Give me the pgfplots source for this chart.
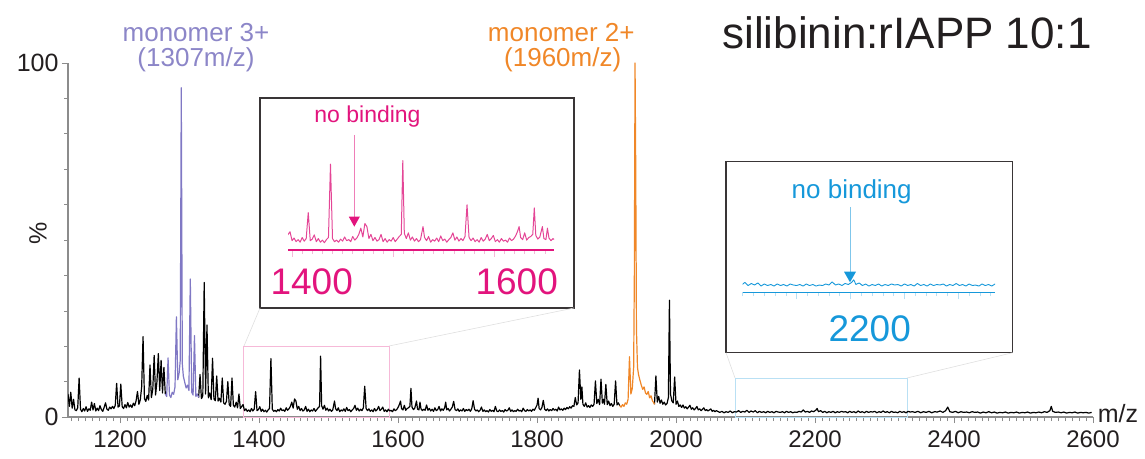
\documentclass[border=0pt]{standalone}
\usepackage{pgfplots}
\pgfplotsset{compat=1.18}
\usepackage{pgfplotstable}
\usepackage{fontspec}
\setmainfont{Liberation Sans}
\definecolor{purp}{RGB}{128,120,196}
\definecolor{purptxt}{RGB}{140,134,200}
\definecolor{orng}{RGB}{240,135,40}
\definecolor{pinkc}{RGB}{226,20,125}
\definecolor{pinkl}{RGB}{228,70,150}
\definecolor{bluec}{RGB}{22,152,218}
\definecolor{axgray}{RGB}{140,140,140}
\definecolor{txt}{RGB}{35,31,32}
\newcommand{\fs}[1]{\fontsize{#1}{#1}\selectfont}

\pgfplotstableread[row sep=\\]{
x y\\
1125 6.5\\ 1127 3\\ 1129 7\\ 1131 2.5\\ 1133 5\\ 1135 2\\
1137 1.8\\ 1139 2.6\\ 1141 11\\ 1143 2.2\\ 1145 1.5\\ 1147 2.4\\ 1149 1.7\\ 1151 2.9\\ 1153 1.6\\ 1155 2.3\\
1157 1.9\\ 1159 4.2\\ 1161 2.0\\ 1163 3.8\\ 1165 1.7\\ 1167 2.5\\ 1169 1.8\\ 1171 3.2\\ 1173 2.1\\ 1175 1.6\\
1177 2.7\\ 1179 4.0\\ 1181 2.2\\ 1183 1.9\\ 1185 2.8\\ 1187 2.3\\ 1189 3.0\\ 1191 2.4\\ 1193 3.3\\ 1195 9.5\\
1197 2.8\\ 1199 3.1\\ 1201 9.3\\ 1203 2.9\\ 1205 2.4\\ 1207 3.5\\ 1209 2.6\\ 1211 4.1\\ 1213 2.8\\ 1215 3.4\\
1217 2.7\\ 1219 3.9\\ 1221 3.2\\ 1223 4.6\\ 1225 7.2\\ 1227 3.6\\ 1229 4.8\\ 1231 8.5\\ 1233 22.7\\ 1235 5.2\\
1237 4.4\\ 1239 6.1\\ 1241 4.8\\ 1243 14.7\\ 1245 5.5\\ 1247 7.8\\ 1249 17.4\\ 1251 6.2\\ 1253 10\\ 1255 17.9\\
1257 7.5\\ 1259 16\\ 1261 6.8\\ 1263 14\\ 1265 6.5\\
1267 5.8\\ 1269 16.7\\ 1271 6.2\\ 1273 5.5\\ 1275 7.0\\ 1277 6.4\\ 1279 8.5\\ 1281 28.3\\ 1283 10.5\\ 1285 12.5\\
1286.5 16\\ 1288 93\\ 1289.5 15\\ 1291 11.5\\ 1293 9.8\\ 1295 8.2\\ 1297 9.0\\ 1299 7.5\\ 1301 39\\ 1303 7.0\\
1305 6.2\\ 1307 23\\ 1309 5.8\\ 1311 6.5\\ 1313 5.5\\
1315 12\\ 1317 5.2\\ 1319 6.0\\ 1321 38\\ 1323 6.5\\ 1325 26\\ 1327 5.4\\ 1329 6.8\\ 1331 4.9\\ 1333 16.6\\
1335 5.1\\ 1337 4.6\\ 1339 11.6\\ 1341 4.5\\ 1343 5.3\\ 1345 4.2\\ 1347 11\\ 1349 4.0\\ 1351 3.6\\ 1353 4.4\\
1355 10\\ 1357 3.5\\ 1359 3.0\\ 1361 11\\ 1363 3.3\\ 1365 2.8\\ 1367 4.2\\ 1369 2.6\\ 1371 6.5\\ 1373 2.4\\ 1375 3.0\\
1377 3.5\\ 1379 1.8\\ 1381 2.3\\ 1383 1.6\\ 1385 2.0\\ 1387 1.5\\ 1389 2.4\\ 1391 1.7\\ 1393 2.2\\ 1395 7.2\\
1397 1.8\\ 1399 2.1\\ 1401 2.9\\ 1403 1.6\\ 1405 2.2\\ 1407 1.5\\ 1409 1.9\\ 1411 1.4\\ 1413 2.0\\ 1415 2.4\\
1417 16.5\\ 1419 2.2\\ 1421 1.6\\ 1423 1.9\\ 1425 1.5\\ 1427 2.1\\ 1429 1.7\\ 1431 2.5\\ 1433 1.8\\ 1435 2.0\\
1437 1.6\\ 1439 2.6\\ 1441 1.9\\ 1443 2.3\\ 1445 3.0\\ 1447 4.2\\ 1449 2.5\\ 1451 5.1\\ 1453 4.5\\ 1455 2.2\\
1457 3.0\\ 1459 1.8\\ 1461 2.4\\ 1463 1.7\\ 1465 2.0\\ 1467 3.0\\ 1469 1.6\\ 1471 2.2\\ 1473 1.5\\ 1475 2.0\\
1477 1.7\\ 1479 2.4\\ 1481 1.6\\ 1483 2.1\\ 1485 2.6\\ 1487 3.0\\ 1488.5 17.2\\ 1490 3.2\\ 1492 2.2\\ 1494 3.3\\
1496 1.9\\ 1498 2.5\\ 1500 1.7\\ 1502 2.2\\ 1504 1.6\\ 1506 2.0\\ 1508.5 4.5\\ 1510 2.4\\ 1512 1.8\\ 1514 2.6\\
1516 1.5\\ 1518 2.0\\ 1520 1.7\\ 1522 2.3\\ 1524 1.6\\ 1526 2.7\\ 1528 1.8\\ 1530 2.1\\ 1532 1.5\\ 1534 2.0\\
1536 2.4\\ 1538 3.3\\ 1540 1.9\\ 1542 2.5\\ 1544 1.7\\ 1546 2.2\\ 1548 1.8\\ 1550 2.6\\ 1552 8.7\\ 1554 2.4\\
1556 1.8\\ 1558 2.3\\ 1560 1.6\\ 1562 2.0\\ 1564 1.5\\ 1566 2.4\\ 1568 1.7\\ 1570 2.1\\ 1572 3.0\\ 1574 1.8\\
1576 2.2\\ 1578 2.8\\ 1580 1.6\\ 1582 2.0\\ 1584 1.5\\ 1586 2.2\\ 1588 1.7\\ 1590 1.9\\ 1592 1.5\\ 1594 2.3\\
1596 1.8\\ 1598 2.1\\ 1600 2.7\\ 1602 3.6\\ 1603.5 4.5\\ 1605 2.4\\ 1607 2.0\\ 1609 3.3\\ 1611 1.9\\ 1613 2.4\\
1615 2.6\\ 1617 3.0\\ 1618.5 8.1\\ 1620 2.8\\ 1622 2.1\\ 1624 2.5\\ 1626.5 4.5\\ 1628 2.2\\ 1630 2.0\\ 1631.5 4.2\\
1633 2.3\\ 1635 1.8\\ 1637 2.2\\ 1639 1.9\\
1641 3.4\\ 1643 1.9\\ 1645 2.4\\ 1647 1.7\\ 1649 2.2\\ 1651 1.6\\ 1653 2.6\\ 1655 1.8\\ 1657 2.1\\ 1659 3.0\\
1661 1.7\\ 1663 2.3\\ 1665 1.9\\ 1667 2.6\\ 1668.5 4.2\\ 1670 2.0\\ 1672 2.4\\ 1674 1.7\\ 1676 2.2\\ 1678 2.8\\
1680 4.4\\ 1682 2.1\\ 1684 1.8\\ 1686 2.3\\ 1688 1.6\\ 1690 2.0\\ 1692 1.7\\ 1694 2.4\\ 1696 1.6\\ 1698 2.1\\
1700 1.8\\ 1702 2.2\\ 1704 1.6\\ 1706 2.3\\ 1708 4.6\\ 1710 2.2\\ 1712 1.7\\ 1714 2.0\\ 1716 1.5\\ 1718 1.9\\
1720 2.8\\ 1722 1.6\\ 1724 2.0\\ 1726 1.5\\ 1728 1.8\\ 1730 1.4\\ 1732 2.1\\ 1734 1.6\\ 1736 1.9\\ 1738 1.5\\
1740 3.0\\ 1742 1.7\\ 1744 1.5\\ 1746 2.0\\ 1748 1.6\\ 1750 1.8\\ 1752 1.4\\ 1754 2.1\\ 1756 1.7\\ 1758 1.9\\
1760 2.6\\ 1762 1.6\\ 1764 2.0\\ 1766 1.5\\ 1768 1.8\\ 1770 1.6\\ 1772 2.2\\ 1774 1.7\\ 1776 1.9\\ 1778 1.5\\
1780 2.5\\ 1782 1.8\\ 1784 1.6\\ 1786 2.1\\ 1788 1.7\\ 1790 2.0\\ 1792 1.6\\ 1794 2.2\\ 1796 1.9\\ 1798 2.6\\
1800 3.4\\ 1801.5 5.3\\ 1803 2.4\\ 1805 2.0\\ 1807 2.7\\ 1809 4.7\\ 1811 2.2\\ 1813 1.8\\ 1815 2.3\\ 1817 1.7\\
1819 2.1\\ 1821 1.8\\ 1823 2.4\\ 1825 1.9\\ 1827 2.2\\ 1829 1.7\\ 1831 2.8\\ 1833 2.0\\ 1835 2.3\\ 1837 1.9\\
1839 2.5\\ 1841 2.1\\ 1843 2.7\\ 1845 2.3\\ 1847 2.9\\ 1849 2.5\\ 1851 3.2\\ 1853 3.0\\ 1855 5.5\\ 1857 3.4\\
1859 4.0\\ 1861 13.3\\ 1863 5.0\\ 1864.5 8.5\\ 1866 3.6\\ 1868 3.0\\ 1870 4.0\\ 1872 2.8\\ 1874 3.2\\ 1876 2.7\\
1878 3.4\\ 1880 3.0\\ 1882 3.6\\ 1884 10.2\\ 1886 3.8\\ 1888 5.0\\ 1890 3.5\\ 1892 10.7\\ 1894 3.9\\ 1895.5 5.0\\
1897 3.6\\ 1899 9.2\\ 1901 3.5\\ 1903 4.5\\ 1905 3.2\\ 1907 3.8\\ 1909 3.0\\ 1911 3.6\\ 1913 10.2\\ 1915 3.4\\
1917 4.0\\ 1919 3.2\\
1921 2.8\\ 1923 3.5\\ 1925 3.0\\ 1927 4.0\\ 1929 3.6\\ 1931 5.0\\ 1933 17\\ 1935 6.5\\ 1937 8\\ 1939 14\\
1940 40\\ 1941 100\\ 1942 70\\ 1943 25\\ 1944.5 14\\ 1946 12\\ 1948 10.4\\ 1950 9.0\\ 1952 7.8\\ 1954 8.5\\
1956 6.8\\ 1958 6.4\\ 1960 7.2\\ 1962 5.4\\ 1964 6.0\\ 1966 4.6\\ 1968 4.0\\ 1969 3.6\\
1971 11.6\\ 1973 4.2\\ 1975 5.8\\ 1977 3.9\\ 1979 4.8\\ 1981 3.6\\ 1983 4.2\\ 1985 3.4\\ 1987 3.8\\ 1989 5.5\\
1990.5 33\\ 1992 6.5\\ 1994 4.5\\ 1996 4.0\\ 1998 11.3\\ 2000 3.6\\ 2002 4.5\\ 2004 3.0\\ 2006 3.4\\ 2008 2.7\\
2010 3.4\\ 2012 2.5\\ 2014 2.9\\ 2016 2.3\\ 2018 2.8\\ 2020 3.3\\ 2022 2.2\\ 2024 2.6\\ 2026 2.0\\ 2028 2.4\\
2030 3.0\\ 2032 2.0\\ 2034 2.3\\ 2036 1.8\\ 2038 2.2\\ 2040 2.6\\ 2042 1.8\\ 2044 2.1\\ 2046 1.7\\ 2048 2.0\\
2050 2.3\\ 2052 1.6\\ 2054 1.9\\ 2056 1.5\\ 2058 1.8\\ 2060 1.6\\
2063 1.3\\ 2066 1.6\\ 2069 1.2\\ 2072 1.5\\ 2075 1.3\\ 2078 1.7\\ 2081 1.2\\ 2084 1.5\\ 2087 1.4\\ 2090 1.8\\
2093 1.3\\ 2096 1.6\\ 2099 1.4\\ 2102 1.9\\ 2105 1.3\\ 2108 1.7\\ 2111 1.4\\ 2114 1.8\\ 2117 1.2\\ 2120 1.6\\
2123 1.3\\ 2126 1.5\\ 2129 1.2\\ 2132 1.6\\ 2135 1.3\\ 2138 1.5\\ 2141 1.2\\ 2144 1.6\\ 2147 1.4\\ 2150 1.3\\
2153 1.5\\ 2156 1.2\\ 2159 1.6\\ 2162 1.3\\ 2165 1.5\\ 2168 1.2\\ 2171 1.4\\ 2174 1.3\\ 2177 1.6\\ 2180 1.4\\
2183 2.0\\ 2186 1.4\\ 2189 1.6\\ 2192 1.3\\ 2195 1.7\\ 2198 1.5\\ 2201 1.9\\ 2203 2.4\\ 2205 1.5\\ 2208 1.8\\
2211 1.3\\ 2214 1.6\\ 2217 1.2\\ 2220 1.5\\ 2223 1.3\\ 2226 1.6\\ 2229 1.2\\ 2232 1.5\\ 2235 1.3\\ 2238 1.6\\
2241 1.4\\ 2244 1.5\\ 2247 1.2\\ 2250 1.6\\ 2253 1.3\\ 2256 1.5\\ 2259 1.2\\ 2262 1.7\\ 2265 1.3\\ 2268 1.5\\
2271 1.2\\ 2274 1.6\\ 2277 1.3\\ 2280 1.5\\ 2283 1.4\\ 2286 1.6\\ 2289 1.2\\ 2292 1.5\\ 2295 1.3\\ 2298 1.7\\
2301 1.3\\ 2304 1.5\\ 2307 1.2\\ 2310 1.6\\ 2313 1.3\\ 2316 1.4\\ 2319 1.2\\ 2322 1.6\\ 2325 1.3\\ 2328 1.5\\
2331 1.2\\ 2334 1.6\\ 2337 1.4\\ 2340 1.5\\
2344 1.3\\ 2348 1.6\\ 2352 1.2\\ 2356 1.5\\ 2360 1.3\\ 2364 1.6\\ 2368 1.2\\ 2372 1.5\\ 2376 1.4\\ 2380 1.7\\
2384 1.3\\ 2388 1.8\\ 2391 2.8\\ 2394 1.5\\ 2398 1.3\\ 2402 1.6\\ 2406 1.2\\ 2410 1.5\\ 2414 1.3\\ 2418 1.4\\
2422 1.2\\ 2426 1.5\\ 2430 1.3\\ 2434 1.4\\ 2438 1.1\\ 2442 1.4\\ 2446 1.2\\ 2450 1.5\\ 2454 1.2\\ 2458 1.4\\
2462 1.1\\ 2466 1.3\\ 2470 1.2\\ 2474 1.4\\ 2478 1.1\\ 2482 1.3\\ 2486 1.2\\ 2490 1.4\\ 2494 1.1\\ 2498 1.3\\
2502 1.2\\ 2506 1.4\\ 2510 1.1\\ 2514 1.3\\ 2518 1.2\\ 2522 1.4\\ 2526 1.2\\ 2530 1.5\\ 2534 1.3\\ 2538 1.8\\
2540 3.0\\ 2542 1.6\\ 2546 1.3\\ 2550 1.4\\ 2554 1.2\\ 2558 1.4\\ 2562 1.1\\ 2566 1.3\\ 2570 1.2\\ 2574 1.4\\
2578 1.1\\ 2582 1.3\\ 2586 1.2\\ 2590 1.3\\ 2594 1.1\\ 2598 1.3\\
}\spec

\begin{document}
\begin{tikzpicture}
\path[use as bounding box] (0,0) rectangle (1145pt,458pt);

% ---------- main spectrum ----------
\begin{axis}[
  at={(68pt,41pt)}, anchor=south west,
  scale only axis, width=1025pt, height=354pt,
  xmin=1125, xmax=2600, ymin=0, ymax=100,
  axis x line=bottom, axis y line=left,
  axis line style={draw=axgray, line width=1.8pt, -},
  tick align=outside,
  major tick length=6pt, minor tick length=4pt,
  tick style={draw=axgray, line width=0.8pt},
  minor tick style={draw=axgray, line width=0.6pt},
  xtick={1200,1400,...,2600},
  minor xtick={1130,1140,...,2600},
  ytick={0,100},
  minor ytick={10,20,...,90},
  x tick label style={font=\fs{24}, text=txt, yshift=-4pt},
  y tick label style={font=\fs{25}, text=txt},
  /pgf/number format/assume math mode=true,
  /pgf/number format/1000 sep={},
  clip=true,
]
\draw[pinkc!30, line width=0.8pt] (axis cs:1378,0) rectangle (axis cs:1587,20);
\draw[bluec!30, line width=0.8pt] (axis cs:2085,0) rectangle (axis cs:2333,11);
\addplot[black, line width=1.2pt, line join=round, restrict x to domain=1125:1265] table {\spec};
\addplot[black, line width=1.2pt, line join=round, restrict x to domain=1313:1919] table {\spec};
\addplot[black, line width=1.2pt, line join=round, restrict x to domain=1969:2600] table {\spec};
\addplot[purp, line width=1.2pt, line join=round, restrict x to domain=1265:1313] table {\spec};
\addplot[orng, line width=1.2pt, line join=round, restrict x to domain=1919:1969] table {\spec};
\end{axis}

% ---------- pink inset ----------
\begin{axis}[
  at={(288pt,208pt)}, anchor=south west,
  scale only axis, width=266pt, height=91pt,
  xmin=1375, xmax=1638, ymin=0, ymax=17.5,
  axis x line=bottom, axis y line=none,
  axis line style={draw=pinkc, line width=1.5pt, -},
  tick align=outside,
  major tick length=7pt, minor tick length=4pt,
  tick style={draw=pinkc!30, line width=0.7pt},
  minor tick style={draw=pinkc!30, line width=0.6pt},
  xtick={1379,1479,1579},
  minor xtick={1389,1399,...,1629},
  xticklabels={}, ytick=\empty,
]
\addplot[pinkl, line width=1.0pt, line join=round, restrict x to domain=1370:1645] table {\spec};
\end{axis}

% ---------- blue inset ----------
\begin{axis}[
  at={(742.7pt,165.7pt)}, anchor=south west,
  scale only axis, width=252.3pt, height=91pt,
  xmin=2100, xmax=2334, ymin=0, ymax=17.5,
  axis x line=bottom, axis y line=none,
  axis line style={draw=bluec, line width=1.5pt, -},
  tick align=outside,
  major tick length=7pt, minor tick length=4pt,
  tick style={draw=bluec!30, line width=0.7pt},
  minor tick style={draw=bluec!30, line width=0.6pt},
  xtick={2150,2200,2250,2300},
  minor xtick={2100,2110,...,2330},
  xticklabels={}, ytick=\empty,
]
\addplot[bluec, line width=0.9pt, line join=round, restrict x to domain=2095:2340] table {\spec};
\end{axis}

% inset boxes and connectors
\draw[txt!90, line width=1.4pt] (260pt,150pt) rectangle (574pt,360pt);
\draw[txt!90, line width=1.4pt] (726pt,105.3pt) rectangle (1012.7pt,296.3pt);
\draw[gray!25, line width=0.6pt] (244pt,112pt) -- (260pt,150pt);
\draw[gray!25, line width=0.6pt] (389pt,112pt) -- (574pt,150pt);
\draw[gray!25, line width=0.6pt] (735pt,80pt) -- (726pt,105.3pt);
\draw[gray!25, line width=0.6pt] (907pt,80pt) -- (1012.7pt,105.3pt);

% arrows
\draw[pinkc!55, line width=0.5pt] (354.3pt,323pt) -- (354.3pt,241pt);
\fill[pinkc] (348.8pt,241.3pt) -- (359.8pt,241.3pt) -- (354.3pt,231.3pt) -- cycle;
\draw[bluec!55, line width=0.5pt] (850pt,251pt) -- (850pt,186pt);
\fill[bluec] (844pt,186.3pt) -- (856pt,186.3pt) -- (850pt,175.7pt) -- cycle;

% texts
\node[font=\fs{44}, text=txt, inner sep=0pt] at (907pt,425.5pt) {silibinin:rIAPP 10:1};
\node[font=\fs{26}, text=purptxt, inner sep=0pt] at (196pt,425pt) {monomer 3+};
\node[font=\fs{26}, text=purptxt, inner sep=0pt] at (196pt,398pt) {(1307m/z)};
\node[font=\fs{26}, text=orng, inner sep=0pt] at (561.3pt,425pt) {monomer 2+};
\node[font=\fs{26}, text=orng, inner sep=0pt] at (562.7pt,398pt) {(1960m/z)};
\node[font=\fs{23}, text=pinkc, inner sep=0pt] at (367.5pt,341.3pt) {no binding};
\node[font=\fs{37}, text=pinkc, inner sep=0pt] at (311.7pt,176.3pt) {1400};
\node[font=\fs{37}, text=pinkc, inner sep=0pt] at (516.7pt,176.3pt) {1600};
\node[font=\fs{26}, text=bluec, inner sep=0pt] at (851.7pt,266pt) {no binding};
\node[font=\fs{37}, text=bluec, inner sep=0pt] at (869.7pt,129.7pt) {2200};
\node[font=\fs{25}, text=txt, inner sep=0pt, rotate=90] at (38pt,225pt) {\%};
\node[font=\fs{25}, text=txt, inner sep=0pt] at (1118pt,44pt) {m/z};
\end{tikzpicture}
\end{document}
